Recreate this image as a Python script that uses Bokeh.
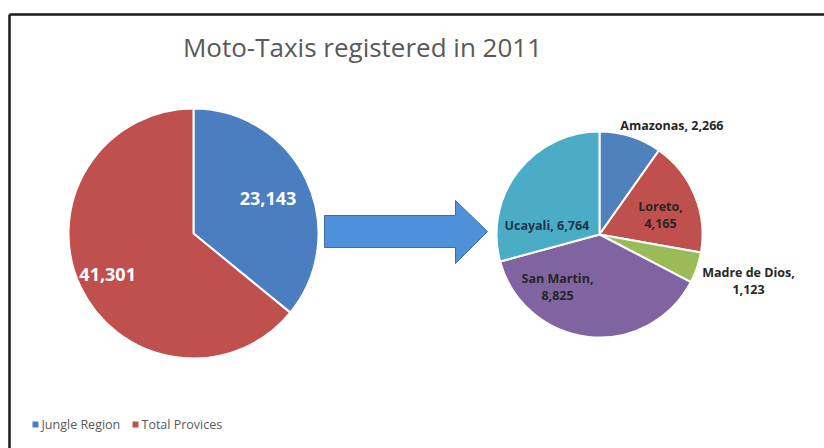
import math
from bokeh.plotting import figure
from bokeh.models import Range1d, ColumnDataSource
from bokeh.core.properties import value
from bokeh.embed import file_html
from bokeh.resources import INLINE

# ---- data ----
title_text = "Moto-Taxis registered in 2011"
main_labels = ["Jungle Region", "Total Provices"]
main_values = [23143, 41301]
main_colors = ["#4A7EC0", "#C0504D"]

region_names = ["Amazonas", "Loreto", "Madre de Dios", "San Martin", "Ucayali"]
region_values = [2266, 4165, 1123, 8825, 6764]
region_colors = ["#4F81BD", "#C0504D", "#9BBB59", "#8064A2", "#4BACC6"]

W, H = 824, 448
p = figure(width=W, height=H, output_backend="svg", toolbar_location=None,
           x_range=Range1d(0, W), y_range=Range1d(0, H),
           min_border=0, outline_line_color=None)
p.axis.visible = False
p.grid.visible = False
p.background_fill_color = "white"
p.border_fill_color = "white"

def Y(img_y):
    return H - img_y

FONT = "Open Sans"

# frame (left and top sides)
p.segment(x0=[9, 9], y0=[0, Y(14)], x1=[9, W], y1=[Y(14), Y(14)],
          line_color="#1a1a1a", line_width=2.5)

# title
p.text(x=[362], y=[Y(46)], text=[title_text], text_font=value(FONT), text_font_size="26px",
       text_color="#595959", text_align="center", text_baseline="middle")

def wedges(cx, cy, r, vals, colors):
    total = float(sum(vals))
    starts, ends, mids = [], [], []
    acc = 0.0
    for v in vals:
        a0 = acc / total * 2 * math.pi
        acc += v
        a1 = acc / total * 2 * math.pi
        starts.append(math.pi / 2 - a0)
        ends.append(math.pi / 2 - a1)
        mids.append((a0 + a1) / 2)
    src = ColumnDataSource(dict(x=[cx] * len(vals), y=[cy] * len(vals),
                                start=starts, end=ends, color=colors))
    p.wedge(x="x", y="y", radius=r, start_angle="start", end_angle="end",
            direction="clock", fill_color="color", line_color="white", line_width=2,
            source=src)
    return mids

# main pie
mcx, mcy, mr = 193, Y(233), 125
mids = wedges(mcx, mcy, mr, main_values, main_colors)
main_label_r = [0.66, 0.76]
for v, a, f in zip(main_values, mids, main_label_r):
    p.text(x=[mcx + f * mr * math.sin(a)], y=[mcy + f * mr * math.cos(a)],
           text=[f"{v:,}"], text_font=value(FONT), text_font_style="bold",
           text_font_size="18px", text_color="white", text_align="center",
           text_baseline="middle")

# arrow
ax = [324, 455, 455, 487, 455, 455, 324]
ay = [215, 215, 200, 231, 263, 247, 247]
p.patch(x=ax, y=[Y(v) for v in ay], fill_color="#4F91D9", line_color="#3B6EA8", line_width=1)

# small pie
scx, scy, sr = 599, Y(234), 103
wedges(scx, scy, sr, region_values, region_colors)

# label offsets (pixels from pie centre), line count, colour
label_off = [(74, -109, 1, "#262626"), (61, -20, 2, "#262626"), (149, 46, 2, "#262626"),
             (-42, 52, 2, "#262626"), (-51, -9, 1, "#1F3550")]
for name, v, (dx, dy, nl, tc) in zip(region_names, region_values, label_off):
    if nl == 1:
        lines = [f"{name},  {v:,}"]
    else:
        lines = [f"{name},", f"{v:,}"]
    n = len(lines)
    for i, t in enumerate(lines):
        off = (i - (n - 1) / 2) * 17
        p.text(x=[scx + dx], y=[scy - dy - off], text=[t], text_font=value(FONT),
               text_font_style="bold", text_font_size="12.5px", text_color=tc,
               text_align="center", text_baseline="middle")

# legend
leg_x = [35, 135]
for lx, lab, c in zip(leg_x, main_labels, main_colors):
    p.scatter(x=[lx], y=[Y(424)], marker="square", size=6, fill_color=c, line_color=None)
    p.text(x=[lx + 6], y=[Y(424)], text=[lab], text_font=value(FONT), text_font_size="12.5px",
           text_color="#595959", text_align="left", text_baseline="middle")

open("out.html", "w").write(file_html(p, INLINE))
